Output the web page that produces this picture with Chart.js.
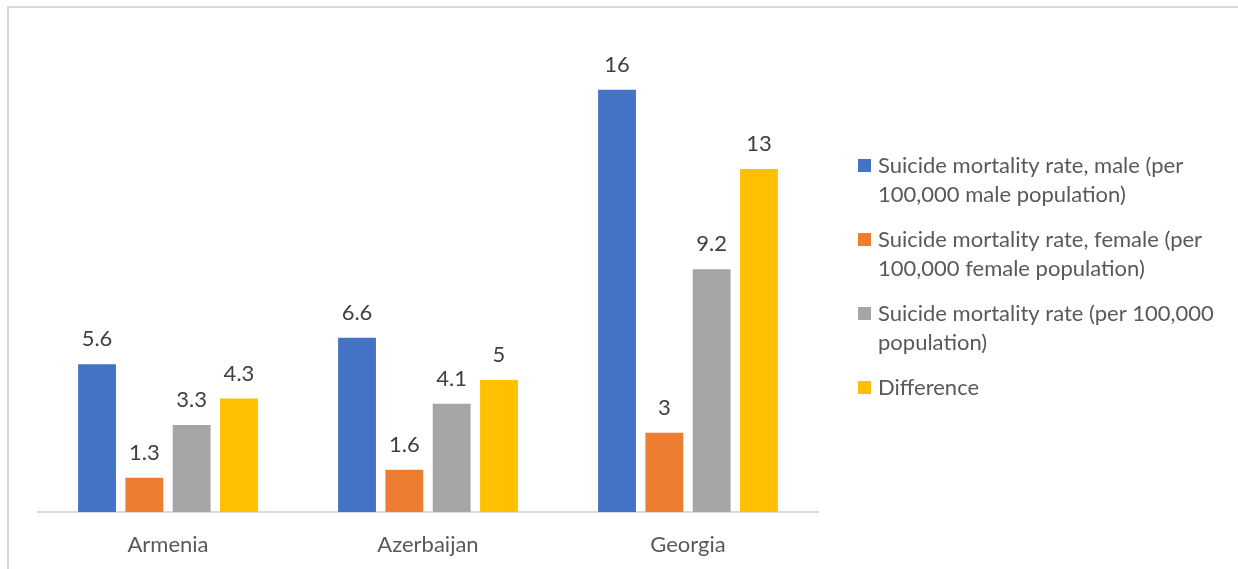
<!DOCTYPE html>
<html>
<head>
<meta charset="utf-8">
<script src="https://cdn.jsdelivr.net/npm/chart.js@4"></script>
<style>
  html, body { margin: 0; padding: 0; background: #fff; }
  #wrap { width: 1238px; height: 569px; position: relative; }
</style>
</head>
<body>
<div id="wrap"><canvas id="chart"></canvas></div>
<script>
// countries and rates (per 100,000)
const countries = ["Armenia", "Azerbaijan", "Georgia"];
const maleRate = [5.6, 6.6, 16];
const femaleRate = [1.3, 1.6, 3];
const totalRate = [3.3, 4.1, 9.2];
const difference = [4.3, 5, 13];

const seriesNames = [
  "Suicide mortality rate, male (per 100,000 male population)",
  "Suicide mortality rate, female (per 100,000 female population)",
  "Suicide mortality rate (per 100,000 population)",
  "Difference"
];
const seriesColors = ["#4472C4", "#ED7D31", "#A5A5A5", "#FFC000"];

const FONT = "Lato, 'Open Sans', sans-serif";
const FONT_SIZE = 22;

// outer frame like the office chart border
const frame = {
  id: "frame",
  beforeDraw(chart) {
    const ctx = chart.ctx;
    ctx.save();
    ctx.strokeStyle = "#d9d9d9";
    ctx.lineWidth = 2;
    ctx.strokeRect(8, 7, chart.width + 20, chart.height + 20);
    ctx.restore();
  }
};

// value labels above each bar
const valueLabels = {
  id: "valueLabels",
  afterDatasetsDraw(chart) {
    const ctx = chart.ctx;
    ctx.save();
    ctx.font = FONT_SIZE + "px " + FONT;
    ctx.fillStyle = "#404040";
    ctx.textAlign = "center";
    ctx.textBaseline = "alphabetic";
    chart.data.datasets.forEach((ds, i) => {
      chart.getDatasetMeta(i).data.forEach((bar, j) => {
        ctx.fillText(String(ds.data[j]), bar.x, bar.y - 18);
      });
    });
    ctx.restore();
  }
};

// legend on the right with wrapped labels
function wrapText(ctx, text, maxWidth) {
  const words = text.split(" ");
  const lines = [];
  let line = "";
  words.forEach(w => {
    const test = line ? line + " " + w : w;
    if (ctx.measureText(test).width > maxWidth && line) {
      lines.push(line);
      line = w;
    } else {
      line = test;
    }
  });
  if (line) lines.push(line);
  return lines;
}

const sideLegend = {
  id: "sideLegend",
  afterDraw(chart) {
    const ctx = chart.ctx;
    ctx.save();
    ctx.font = FONT_SIZE + "px " + FONT;
    ctx.textBaseline = "alphabetic";
    ctx.textAlign = "left";
    const boxX = 858, textX = 878, lineH = 29, gap = 16;
    let y = 166;
    chart.data.datasets.forEach(ds => {
      ctx.fillStyle = ds.backgroundColor;
      ctx.fillRect(boxX, y - 7, 13, 13);
      ctx.fillStyle = "#595959";
      const lines = wrapText(ctx, ds.label, 350);
      lines.forEach((ln, k) => ctx.fillText(ln, textX, y + 7 + k * lineH));
      y += lines.length * lineH + gap;
    });
    ctx.restore();
  }
};

new Chart(document.getElementById("chart"), {
  type: "bar",
  data: {
    labels: countries,
    datasets: [maleRate, femaleRate, totalRate, difference].map((d, i) => ({
      label: seriesNames[i],
      data: d,
      backgroundColor: seriesColors[i],
      categoryPercentage: 0.728,
      barPercentage: 0.8
    }))
  },
  options: {
    responsive: true,
    maintainAspectRatio: false,
    animation: false,
    layout: { padding: { left: 38, right: 420, top: 37, bottom: 0 } },
    plugins: { legend: { display: false }, tooltip: { enabled: false } },
    scales: {
      x: {
        grid: { display: false, drawTicks: false },
        border: { display: true, color: "#d9d9d9", width: 2 },
        ticks: { color: "#595959", font: { family: FONT, size: FONT_SIZE }, padding: 20 },
        afterFit(scale) { scale.height = 57; }
      },
      y: {
        display: false,
        min: 0,
        max: 18
      }
    }
  },
  plugins: [frame, valueLabels, sideLegend]
});
</script>
</body>
</html>
